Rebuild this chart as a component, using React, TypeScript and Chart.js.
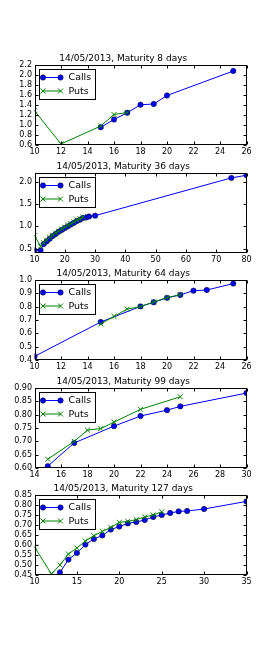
import React, { useEffect, useRef } from "react";
import { Chart, registerables } from "chart.js";

Chart.register(...registerables);

const FONT = "'DejaVu Sans', 'Liberation Sans', sans-serif";
const BLUE = "#0000ff";
const GREEN = "#008000";

// ---------- Data (strike -> implied vol) ----------
const titles = [
  "14/05/2013, Maturity 8 days",
  "14/05/2013, Maturity 36 days",
  "14/05/2013, Maturity 64 days",
  "14/05/2013, Maturity 99 days",
  "14/05/2013, Maturity 127 days",
];

// Maturity 8 days
const m8CallStrikes = [15, 16, 17, 18, 19, 20, 25];
const m8CallVols = [0.955, 1.11, 1.245, 1.405, 1.42, 1.59, 2.08];
const m8PutStrikes = [10, 12, 15, 16, 17];
const m8PutVols = [1.285, 0.62, 0.98, 1.21, 1.25];

// Maturity 36 days
const m36CallStrikes = [10, 12, 13, 14, 15, 16, 17, 18, 19, 20, 21, 22, 23, 24, 25, 26, 27, 28, 30, 75, 80];
const m36CallVols = [0.46, 0.46, 0.6, 0.66, 0.72, 0.78, 0.83, 0.88, 0.92, 0.96, 1.0, 1.04, 1.08, 1.12, 1.15, 1.19, 1.2, 1.22, 1.24, 2.09, 2.15];
const m36PutStrikes = [10, 12, 13, 14, 15, 16, 17, 18, 19, 20, 21, 22, 23, 24, 25, 26];
const m36PutVols = [0.79, 0.55, 0.63, 0.69, 0.75, 0.8, 0.85, 0.89, 0.94, 0.98, 1.02, 1.06, 1.1, 1.14, 1.17, 1.21];

// Maturity 64 days
const m64CallStrikes = [10, 15, 18, 19, 20, 21, 22, 23, 25];
const m64CallVols = [0.427, 0.685, 0.802, 0.833, 0.866, 0.888, 0.92, 0.925, 0.973];
const m64PutStrikes = [15, 16, 17, 18, 19, 20, 21];
const m64PutVols = [0.67, 0.727, 0.782, 0.8, 0.835, 0.868, 0.89];

// Maturity 99 days
const m99CallStrikes = [15, 17, 20, 22, 24, 25, 30];
const m99CallVols = [0.607, 0.694, 0.757, 0.795, 0.817, 0.831, 0.881];
const m99PutStrikes = [15, 17, 18, 19, 20, 22, 25];
const m99PutVols = [0.633, 0.7, 0.742, 0.748, 0.772, 0.82, 0.867];

// Maturity 127 days
const m127CallStrikes = [13, 14, 15, 16, 17, 18, 19, 20, 21, 22, 23, 24, 25, 26, 27, 28, 30, 35];
const m127CallVols = [0.463, 0.527, 0.56, 0.602, 0.63, 0.648, 0.677, 0.692, 0.708, 0.715, 0.725, 0.74, 0.75, 0.76, 0.768, 0.77, 0.78, 0.818];
const m127PutStrikes = [10, 12, 13, 14, 15, 16, 17, 18, 19, 20, 21, 22, 23, 24, 25];
const m127PutVols = [0.59, 0.455, 0.5, 0.555, 0.585, 0.62, 0.646, 0.668, 0.688, 0.713, 0.718, 0.727, 0.74, 0.75, 0.766];

// Axis ticks
const xTicks8 = [10, 12, 14, 16, 18, 20, 22, 24, 26];
const yTicks8 = [0.6, 0.8, 1.0, 1.2, 1.4, 1.6, 1.8, 2.0, 2.2];
const xTicks36 = [10, 20, 30, 40, 50, 60, 70, 80];
const yTicks36 = [0.5, 1.0, 1.5, 2.0];
const xTicks64 = [10, 12, 14, 16, 18, 20, 22, 24, 26];
const yTicks64 = [0.4, 0.5, 0.6, 0.7, 0.8, 0.9, 1.0];
const xTicks99 = [14, 16, 18, 20, 22, 24, 26, 28, 30];
const yTicks99 = [0.6, 0.65, 0.7, 0.75, 0.8, 0.85, 0.9];
const xTicks127 = [10, 15, 20, 25, 30, 35];
const yTicks127 = [0.45, 0.5, 0.55, 0.6, 0.65, 0.7, 0.75, 0.8, 0.85];

const yRanges = [
  [0.6, 2.2],
  [0.4, 2.2],
  [0.4, 1.0],
  [0.6, 0.9],
  [0.45, 0.85],
];
const xRanges = [
  [10, 26],
  [10, 80],
  [10, 26],
  [14, 30],
  [10, 35],
];
const yDecimals = [1, 1, 1, 2, 2];

const panels = [
  { cx: m8CallStrikes, cy: m8CallVols, px: m8PutStrikes, py: m8PutVols, xt: xTicks8, yt: yTicks8 },
  { cx: m36CallStrikes, cy: m36CallVols, px: m36PutStrikes, py: m36PutVols, xt: xTicks36, yt: yTicks36 },
  { cx: m64CallStrikes, cy: m64CallVols, px: m64PutStrikes, py: m64PutVols, xt: xTicks64, yt: yTicks64 },
  { cx: m99CallStrikes, cy: m99CallVols, px: m99PutStrikes, py: m99PutVols, xt: xTicks99, yt: yTicks99 },
  { cx: m127CallStrikes, cy: m127CallVols, px: m127PutStrikes, py: m127PutVols, xt: xTicks127, yt: yTicks127 },
];

// ---------- Layout ----------
const W = 274;
const AXES_LEFT = 34.5;
const AXES_RIGHT = 246.5;
const AXES_H = 80;
const TITLE_SPACE = 14;
const BOTTOM_SPACE = 16;
const CANVAS_H = TITLE_SPACE + AXES_H + BOTTOM_SPACE;
const axesTop = (i: number) => Math.round(65.3 + 107.5 * i);

function drawMarker(ctx: CanvasRenderingContext2D, style: string, x: number, y: number, color: string) {
  ctx.save();
  if (style === "circle") {
    ctx.beginPath();
    ctx.arc(x, y, 2.7, 0, Math.PI * 2);
    ctx.fillStyle = color;
    ctx.fill();
    ctx.lineWidth = 0.5;
    ctx.strokeStyle = "#000000";
    ctx.stroke();
  } else {
    const d = 2.5;
    ctx.beginPath();
    ctx.moveTo(x - d, y - d);
    ctx.lineTo(x + d, y + d);
    ctx.moveTo(x - d, y + d);
    ctx.lineTo(x + d, y - d);
    ctx.strokeStyle = color;
    ctx.lineWidth = 1;
    ctx.stroke();
  }
  ctx.restore();
}

const mplDecor = {
  id: "mplDecor",
  afterDraw(chart: any) {
    const ctx: CanvasRenderingContext2D = chart.ctx;
    const a = chart.chartArea;
    const xs = chart.scales.x;
    const ys = chart.scales.y;
    const L = Math.round(a.left) + 0.5;
    const R = Math.round(a.right) - 0.5;
    const T = Math.round(a.top) + 0.5;
    const B = Math.round(a.bottom) - 0.5;
    ctx.save();
    ctx.strokeStyle = "#000";
    ctx.lineWidth = 1;
    // inward ticks on all sides
    const tl = 3;
    ctx.beginPath();
    xs.ticks.forEach((t: any) => {
      const p = Math.round(xs.getPixelForValue(t.value)) + 0.5;
      ctx.moveTo(p, B);
      ctx.lineTo(p, B - tl);
      ctx.moveTo(p, T);
      ctx.lineTo(p, T + tl);
    });
    ys.ticks.forEach((t: any) => {
      const p = Math.round(ys.getPixelForValue(t.value)) + 0.5;
      ctx.moveTo(L, p);
      ctx.lineTo(L + tl, p);
      ctx.moveTo(R, p);
      ctx.lineTo(R - tl, p);
    });
    ctx.stroke();
    // frame
    ctx.strokeRect(L, T, R - L, B - T);

    // legend (upper left, inside axes)
    const bx = Math.round(a.left + 4) + 0.5;
    const by = Math.round(a.top + 4) + 0.5;
    const bw = 56;
    const bh = 30;
    ctx.fillStyle = "#fff";
    ctx.fillRect(bx, by, bw, bh);
    ctx.strokeRect(bx, by, bw, bh);
    ctx.font = `9.5px ${FONT}`;
    ctx.textBaseline = "middle";
    ctx.textAlign = "left";
    chart.data.datasets.forEach((ds: any, i: number) => {
      const ry = a.top + 12.5 + i * 13.5;
      const x0 = a.left + 8.5;
      const x1 = a.left + 26;
      ctx.beginPath();
      ctx.moveTo(x0, ry);
      ctx.lineTo(x1, ry);
      ctx.strokeStyle = ds.borderColor;
      ctx.lineWidth = 1;
      ctx.stroke();
      const ms = ds.pointStyle === "circle" ? "circle" : "cross";
      drawMarker(ctx, ms, x0, ry, ds.borderColor);
      drawMarker(ctx, ms, x1, ry, ds.borderColor);
      ctx.fillStyle = "#000";
      ctx.fillText(ds.label, a.left + 34, ry + 0.5);
    });
    ctx.restore();
  },
};

function makeConfig(i: number): any {
  const p = panels[i];
  const dec = yDecimals[i];
  return {
    type: "line",
    data: {
      datasets: [
        {
          label: "Calls",
          data: p.cx.map((x, j) => ({ x, y: p.cy[j] })),
          borderColor: BLUE,
          backgroundColor: BLUE,
          borderWidth: 1,
          pointStyle: "circle",
          pointRadius: 2.7,
          pointBackgroundColor: BLUE,
          pointBorderColor: "#000000",
          pointBorderWidth: 0.5,
          tension: 0,
          order: 1,
        },
        {
          label: "Puts",
          data: p.px.map((x, j) => ({ x, y: p.py[j] })),
          borderColor: GREEN,
          backgroundColor: GREEN,
          borderWidth: 1,
          pointStyle: "crossRot",
          pointRadius: 3.5,
          pointBorderColor: GREEN,
          pointBorderWidth: 1,
          tension: 0,
          order: 0,
        },
      ],
    },
    options: {
      responsive: false,
      animation: false,
      events: [],
      layout: { padding: { left: 0, right: W - AXES_RIGHT, top: 0, bottom: 0 } },
      plugins: {
        legend: { display: false },
        tooltip: { enabled: false },
        title: {
          display: true,
          text: titles[i],
          color: "#000",
          font: { family: FONT, size: 9, weight: "normal", lineHeight: 1.2 },
          padding: { top: TITLE_SPACE - 10.8 - 0.6, bottom: 0.6 },
        },
      },
      scales: {
        x: {
          type: "linear",
          min: xRanges[i][0],
          max: xRanges[i][1],
          grid: { display: false, drawTicks: false },
          border: { display: false },
          afterBuildTicks: (s: any) => {
            s.ticks = p.xt.map((v) => ({ value: v }));
          },
          afterFit: (s: any) => {
            s.height = BOTTOM_SPACE;
          },
          ticks: {
            color: "#000",
            font: { family: FONT, size: 8 },
            padding: 2,
            maxRotation: 0,
            autoSkip: false,
            callback: (v: number) => String(v),
          },
        },
        y: {
          type: "linear",
          min: yRanges[i][0],
          max: yRanges[i][1],
          grid: { display: false, drawTicks: false },
          border: { display: false },
          afterBuildTicks: (s: any) => {
            s.ticks = p.yt.map((v) => ({ value: v }));
          },
          afterFit: (s: any) => {
            s.width = AXES_LEFT;
          },
          ticks: {
            color: "#000",
            font: { family: FONT, size: 8 },
            padding: 2.5,
            autoSkip: false,
            callback: (v: number) => Number(v).toFixed(dec),
          },
        },
      },
    },
    plugins: [mplDecor],
  };
}

export default function App() {
  const refs = useRef<(HTMLCanvasElement | null)[]>([]);
  useEffect(() => {
    const charts = panels.map((_, i) => new Chart(refs.current[i] as HTMLCanvasElement, makeConfig(i)));
    return () => charts.forEach((c) => c.destroy());
  }, []);
  return (
    <div style={{ position: "absolute", left: 0, top: 0, width: W, height: 658, background: "#fff" }}>
      {panels.map((_, i) => (
        <canvas
          key={i}
          ref={(el) => {
            refs.current[i] = el;
          }}
          width={W}
          height={CANVAS_H}
          style={{ position: "absolute", left: 0, top: axesTop(i) - TITLE_SPACE, width: W, height: CANVAS_H }}
        />
      ))}
    </div>
  );
}
